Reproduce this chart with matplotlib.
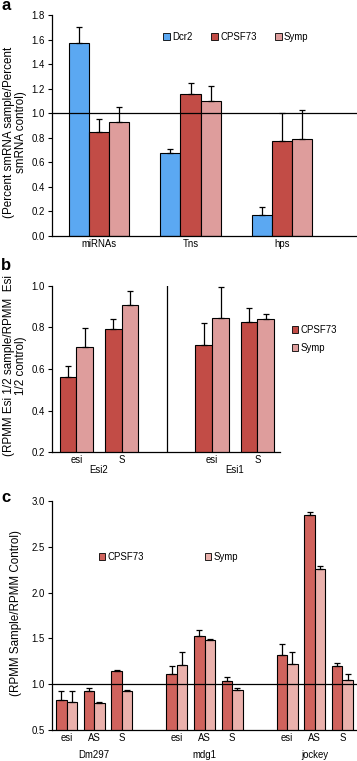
import matplotlib
matplotlib.use("Agg")
import matplotlib.pyplot as plt
import numpy as np
from matplotlib.patches import Patch

plt.rcParams['font.family'] = ['Liberation Sans', 'DejaVu Sans']

# ---------------- data ----------------
# Panel a
a_categories = ["miRNAs", "Tns", "hps"]
a_series = ["Dcr2", "CPSF73", "Symp"]
a_dcr2 = [1.57, 0.68, 0.17]
a_dcr2_err = [0.13, 0.03, 0.07]
a_cpsf73 = [0.85, 1.16, 0.77]
a_cpsf73_err = [0.10, 0.09, 0.23]
a_symp = [0.93, 1.10, 0.79]
a_symp_err = [0.12, 0.125, 0.24]
a_yticks = [0.0, 0.2, 0.4, 0.6, 0.8, 1.0, 1.2, 1.4, 1.6, 1.8]

# Panel b
b_sub = ["esi", "S", "esi", "S"]
b_groups = ["Esi2", "Esi1"]
b_cpsf73 = [0.563, 0.794, 0.717, 0.826]
b_cpsf73_err = [0.053, 0.044, 0.102, 0.065]
b_symp = [0.704, 0.906, 0.846, 0.842]
b_symp_err = [0.094, 0.067, 0.146, 0.020]
b_yticks = [0.2, 0.4, 0.6, 0.8, 1.0]

# Panel c
c_sub = ["esi", "AS", "S", "esi", "AS", "S", "esi", "AS", "S"]
c_groups = ["Dm297", "mdg1", "jockey"]
c_cpsf73 = [0.83, 0.93, 1.14, 1.11, 1.53, 1.04, 1.32, 2.85, 1.20]
c_cpsf73_err = [0.10, 0.025, 0.01, 0.09, 0.06, 0.04, 0.12, 0.03, 0.035]
c_symp = [0.81, 0.79, 0.93, 1.21, 1.48, 0.94, 1.22, 2.26, 1.05]
c_symp_err = [0.12, 0.02, 0.005, 0.14, 0.015, 0.02, 0.13, 0.03, 0.065]
c_yticks = [0.5, 1.0, 1.5, 2.0, 2.5, 3.0]

# ---------------- style ----------------
BLUE = "#5BA8F2"
RED_A = "#C24C46"
PINK_A = "#DE9D9C"
RED_C = "#D0635D"
PINK_C = "#EAB1AC"
TICK_FS = 6.9
LABEL_FS = 8.4

W, H = 357, 761
fig = plt.figure(figsize=(W / 100, H / 100), dpi=100)


def px_axes(left, right, top, bottom):
    return fig.add_axes([left / W, 1 - bottom / H, (right - left) / W, (bottom - top) / H])


def style(ax):
    for s in ["top", "right"]:
        ax.spines[s].set_visible(False)
    ax.spines["left"].set_linewidth(0.9)
    ax.spines["bottom"].set_linewidth(0.9)
    ax.tick_params(axis="y", length=3, width=0.8, labelsize=TICK_FS, pad=2, direction="out")
    ax.tick_params(axis="x", length=0, labelsize=TICK_FS, pad=2)


bar_kw = dict(edgecolor="black", linewidth=0.8, zorder=2)
err_kw = dict(ecolor="black", elinewidth=0.9, capsize=2.5, capthick=0.9)

# ---------------- panel a ----------------
axa = px_axes(52, 357, 15, 236)
xa = np.arange(len(a_categories))
wa = 0.22
for off, vals, errs, col in [(-wa, a_dcr2, a_dcr2_err, BLUE),
                             (0, a_cpsf73, a_cpsf73_err, RED_A),
                             (wa, a_symp, a_symp_err, PINK_A)]:
    axa.bar(xa + off, vals, wa, color=col, yerr=[np.zeros(len(errs)), errs],
            error_kw=err_kw, **bar_kw)
axa.axhline(1.0, color="black", lw=0.9, zorder=3)
axa.set_xlim(-0.515, 2.82)
axa.set_ylim(0, 1.8)
axa.set_yticks(a_yticks)
axa.set_yticklabels([f"{v:.1f}" for v in a_yticks])
axa.set_xticks(xa)
axa.set_xticklabels(a_categories)
style(axa)
handles = [Patch(facecolor=c, edgecolor="black", linewidth=0.6) for c in [BLUE, RED_A, PINK_A]]
axa.legend(handles, a_series, loc="center", bbox_to_anchor=(0.603, 0.90), ncol=3,
           frameon=False, fontsize=TICK_FS, handlelength=0.7, handleheight=0.7,
           handletextpad=0.25, columnspacing=1.9)
fig.text(15 / W, 1 - 132 / H, "(Percent smRNA sample/Percent\nsmRNA control)", rotation=90,
         ha="center", va="center", fontsize=LABEL_FS, linespacing=0.9, multialignment="center")
fig.text(1 / W, 1 - 6 / H, "a", fontsize=12, fontweight="bold", ha="left", va="center")

# ---------------- panel b ----------------
axb = px_axes(52, 280, 285.7, 452.3)
xb = np.array([0, 1, 3, 4])
wb = 0.37
axb.bar(xb - wb / 2, b_cpsf73, wb, color=RED_A, yerr=[np.zeros(4), b_cpsf73_err],
        error_kw=err_kw, **bar_kw)
axb.bar(xb + wb / 2, b_symp, wb, color=PINK_A, yerr=[np.zeros(4), b_symp_err],
        error_kw=err_kw, **bar_kw)
axb.axvline(2, color="black", lw=0.9)
axb.set_xlim(-0.54, 4.5)
axb.set_ylim(0.2, 1.0)
axb.set_yticks(b_yticks)
axb.set_yticklabels([f"{v:.1f}" for v in b_yticks])
axb.set_xticks(xb)
axb.set_xticklabels(b_sub)
style(axb)
for gx, g in zip([0.5, 3.5], b_groups):
    axb.annotate(g, xy=(gx, 0), xycoords=("data", "axes fraction"), xytext=(0, -9.5),
                 textcoords="offset points", ha="center", va="top", fontsize=TICK_FS)
hb = [Patch(facecolor=c, edgecolor="black", linewidth=0.6) for c in [RED_A, PINK_A]]
fig.legend(hb, ["CPSF73", "Symp"], loc="center left", bbox_to_anchor=(283 / W, 1 - 339 / H),
           frameon=False, fontsize=TICK_FS, handlelength=0.7, handleheight=0.7,
           handletextpad=0.25, labelspacing=0.8)
fig.text(15 / W, 1 - 366 / H, "(RPMM Esi 1/2 sample/RPMM  Esi\n1/2 control)", rotation=90,
         ha="center", va="center", fontsize=LABEL_FS, linespacing=0.9, multialignment="center")
fig.text(1 / W, 1 - 266 / H, "b", fontsize=12, fontweight="bold", ha="left", va="center")

# ---------------- panel c ----------------
axc = px_axes(52, 357, 501, 730)
xc = np.array([0, 1, 2, 4, 5, 6, 8, 9, 10])
wc = 0.38
axc.bar(xc - wc / 2, c_cpsf73, wc, color=RED_C, yerr=[np.zeros(9), c_cpsf73_err],
        error_kw=err_kw, **bar_kw)
axc.bar(xc + wc / 2, c_symp, wc, color=PINK_C, yerr=[np.zeros(9), c_symp_err],
        error_kw=err_kw, **bar_kw)
axc.axhline(1.0, color="black", lw=0.9, zorder=3)
axc.set_xlim(-0.53, 10.53)
axc.set_ylim(0.5, 3.0)
axc.set_yticks(c_yticks)
axc.set_yticklabels([f"{v:.1f}" for v in c_yticks])
axc.set_xticks(xc)
axc.set_xticklabels(c_sub)
style(axc)
for gx, g in zip([1, 5, 9], c_groups):
    axc.annotate(g, xy=(gx, 0), xycoords=("data", "axes fraction"), xytext=(0, -14.5),
                 textcoords="offset points", ha="center", va="top", fontsize=TICK_FS)
hc = [Patch(facecolor=c, edgecolor="black", linewidth=0.6) for c in [RED_C, PINK_C]]
axc.legend(hc, ["CPSF73", "Symp"], loc="center left",
           bbox_to_anchor=((90 - 52) / 305, (730 - 557) / 229), ncol=2,
           frameon=False, fontsize=TICK_FS, handlelength=0.7, handleheight=0.7,
           handletextpad=0.25, columnspacing=6.3)
fig.text(16 / W, 1 - 613 / H, "(RPMM Sample/RPMM Control)", rotation=90,
         ha="center", va="center", fontsize=LABEL_FS)
fig.text(1 / W, 1 - 497 / H, "c", fontsize=12, fontweight="bold", ha="left", va="center")

fig.savefig("out.png", dpi=100)
